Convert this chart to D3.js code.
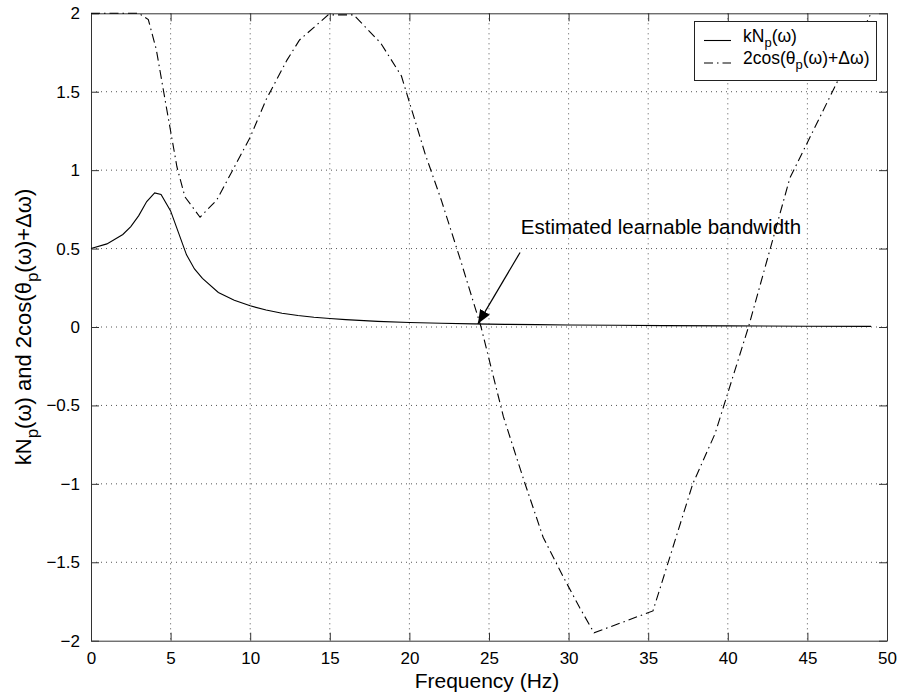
<!DOCTYPE html>
<html>
<head>
<meta charset="utf-8">
<script src="https://cdn.jsdelivr.net/npm/d3@7"></script>
<style>
  body { margin: 0; background: #fff; }
  svg text { font-family: "Liberation Sans", Arial, Helvetica, sans-serif; fill: #000; }
</style>
</head>
<body>
<div id="chart"></div>
<script>
// kN_p(ω): curva sólida
const freqN = [0, 1, 2, 2.5, 3, 3.5, 4, 4.4, 5, 5.5, 6, 6.5, 7, 8, 9, 10, 11, 12, 13, 14, 15, 16, 18, 20, 22, 24, 26, 28, 30, 33, 36, 40, 45, 49];
const valN  = [0.5, 0.53, 0.59, 0.64, 0.71, 0.8, 0.855, 0.845, 0.74, 0.6, 0.46, 0.37, 0.31, 0.22, 0.17, 0.135, 0.108, 0.088, 0.073, 0.062, 0.054, 0.047, 0.036, 0.029, 0.024, 0.02, 0.017, 0.015, 0.013, 0.011, 0.009, 0.007, 0.005, 0.004];

// 2cos(θ_p(ω)+Δω): curva punto-raya
const freqC = [0, 1, 2, 3, 3.6, 4.1, 4.65, 5.4, 5.9, 6.85, 7.9, 8.9, 10, 11, 12.3, 13.1, 14.9, 16.5, 18.2, 19.5, 21, 22, 23.2, 24.5, 25.9, 27.2, 28.4, 29.7, 30.7, 31.6, 35.3, 37.8, 39.2, 41.3, 43.9, 49];
const valC  = [2, 2, 2, 2, 1.96, 1.77, 1.45, 1.02, 0.83, 0.7, 0.81, 1.0, 1.21, 1.45, 1.7, 1.83, 1.99, 1.99, 1.81, 1.6, 1.1, 0.81, 0.43, 0, -0.57, -0.98, -1.34, -1.6, -1.79, -1.95, -1.81, -1.0, -0.68, 0, 0.95, 2.0];

const xTicks = [0, 5, 10, 15, 20, 25, 30, 35, 40, 45, 50];
const yTicks = [-2, -1.5, -1, -0.5, 0, 0.5, 1, 1.5, 2];

const W = 899, H = 694;
const margin = { top: 13.3, right: 12, bottom: 53.3, left: 91 };

const svg = d3.select('#chart').append('svg')
    .attr('width', W)
    .attr('height', H);

const x = d3.scaleLinear().domain([0, 50]).range([margin.left, W - margin.right]);
const y = d3.scaleLinear().domain([-2, 2]).range([H - margin.bottom, margin.top]);

const fmt = d => d < 0 ? '\u2212' + Math.abs(d) : String(d);

// Rejilla punteada
const grid = svg.append('g').attr('stroke', '#555').attr('stroke-width', 1).attr('stroke-dasharray', '1,4');
grid.selectAll('.gx').data(xTicks.slice(1, -1)).join('line')
    .attr('x1', d => x(d)).attr('x2', d => x(d))
    .attr('y1', y(2)).attr('y2', y(-2));
grid.selectAll('.gy').data(yTicks.slice(1, -1)).join('line')
    .attr('x1', x(0)).attr('x2', x(50))
    .attr('y1', d => y(d)).attr('y2', d => y(d));

// Ejes con ticks hacia dentro
const tickLen = 8;
svg.append('g').attr('transform', `translate(0,${y(-2)})`)
    .call(d3.axisBottom(x).tickValues(xTicks).tickFormat(fmt).tickSizeInner(-tickLen).tickSizeOuter(0).tickPadding(11))
    .call(g => g.selectAll('text').attr('font-size', 17));
svg.append('g').attr('transform', `translate(0,${y(2)})`)
    .call(d3.axisTop(x).tickValues(xTicks).tickFormat('').tickSizeInner(-tickLen).tickSizeOuter(0));
svg.append('g').attr('transform', `translate(${x(0)},0)`)
    .call(d3.axisLeft(y).tickValues(yTicks).tickFormat(fmt).tickSizeInner(-tickLen).tickSizeOuter(0).tickPadding(11))
    .call(g => g.selectAll('text').attr('font-size', 17));
svg.append('g').attr('transform', `translate(${x(50)},0)`)
    .call(d3.axisRight(y).tickValues(yTicks).tickFormat('').tickSizeInner(-tickLen).tickSizeOuter(0));
svg.selectAll('.domain').attr('stroke', '#333');
svg.selectAll('.tick line').attr('stroke', '#333');

// Curvas
const lineGen = d3.line().x(d => x(d[0])).y(d => y(d[1]));
svg.append('path')
    .datum(d3.zip(freqN, valN))
    .attr('fill', 'none').attr('stroke', '#000').attr('stroke-width', 1.1)
    .attr('d', lineGen);
svg.append('path')
    .datum(d3.zip(freqC, valC))
    .attr('fill', 'none').attr('stroke', '#000').attr('stroke-width', 1.1)
    .attr('stroke-dasharray', '9,4,1.5,4')
    .attr('d', lineGen);

// Anotación con flecha
svg.append('defs').append('marker')
    .attr('id', 'arrow').attr('viewBox', '0 0 10 10')
    .attr('refX', 10).attr('refY', 5)
    .attr('markerWidth', 14).attr('markerHeight', 14).attr('markerUnits', 'userSpaceOnUse')
    .attr('orient', 'auto')
    .append('path').attr('d', 'M0,1 L10,5 L0,9 Z').attr('fill', '#000');
svg.append('line')
    .attr('x1', x(26.95)).attr('y1', y(0.475))
    .attr('x2', x(24.3)).attr('y2', y(0.02))
    .attr('stroke', '#000').attr('stroke-width', 1.2)
    .attr('marker-end', 'url(#arrow)');
svg.append('text')
    .attr('x', x(27.0)).attr('y', y(0.596))
    .attr('font-size', 20.5)
    .text('Estimated learnable bandwidth');

// Etiquetas de ejes
svg.append('text')
    .attr('x', (x(0) + x(50)) / 2 - 2).attr('y', 688)
    .attr('text-anchor', 'middle').attr('font-size', 21)
    .text('Frequency (Hz)');

const yl = svg.append('text')
    .attr('transform', `translate(31,${(y(2) + y(-2)) / 2}) rotate(-90)`)
    .attr('text-anchor', 'middle').attr('font-size', 22);
yl.append('tspan').text('kN');
yl.append('tspan').attr('dy', 7).attr('font-size', 17).text('p');
yl.append('tspan').attr('dy', -7).text('(\u03c9) and 2cos(\u03b8');
yl.append('tspan').attr('dy', 7).attr('font-size', 17).text('p');
yl.append('tspan').attr('dy', -7).text('(\u03c9)+\u0394\u03c9)');

// Leyenda
const leg = svg.append('g');
leg.append('rect')
    .attr('x', 694.5).attr('y', 21.5).attr('width', 182).attr('height', 59)
    .attr('fill', '#fff').attr('stroke', '#222').attr('stroke-width', 1);
const legRows = [
    { y: 40.5, dash: null, parts: ['kN', 'p', '(\u03c9)'] },
    { y: 63, dash: '9,4,1.5,4', parts: ['2cos(\u03b8', 'p', '(\u03c9)+\u0394\u03c9)'] }
];
legRows.forEach(r => {
    leg.append('line')
        .attr('x1', 704).attr('x2', 731).attr('y1', r.y).attr('y2', r.y)
        .attr('stroke', '#000').attr('stroke-width', 1.1)
        .attr('stroke-dasharray', r.dash);
    const t = leg.append('text').attr('x', 743).attr('y', r.y + 1).attr('font-size', 17.5);
    t.append('tspan').text(r.parts[0]);
    t.append('tspan').attr('dy', 5).attr('font-size', 13).text(r.parts[1]);
    t.append('tspan').attr('dy', -5).text(r.parts[2]);
});
</script>
</body>
</html>
